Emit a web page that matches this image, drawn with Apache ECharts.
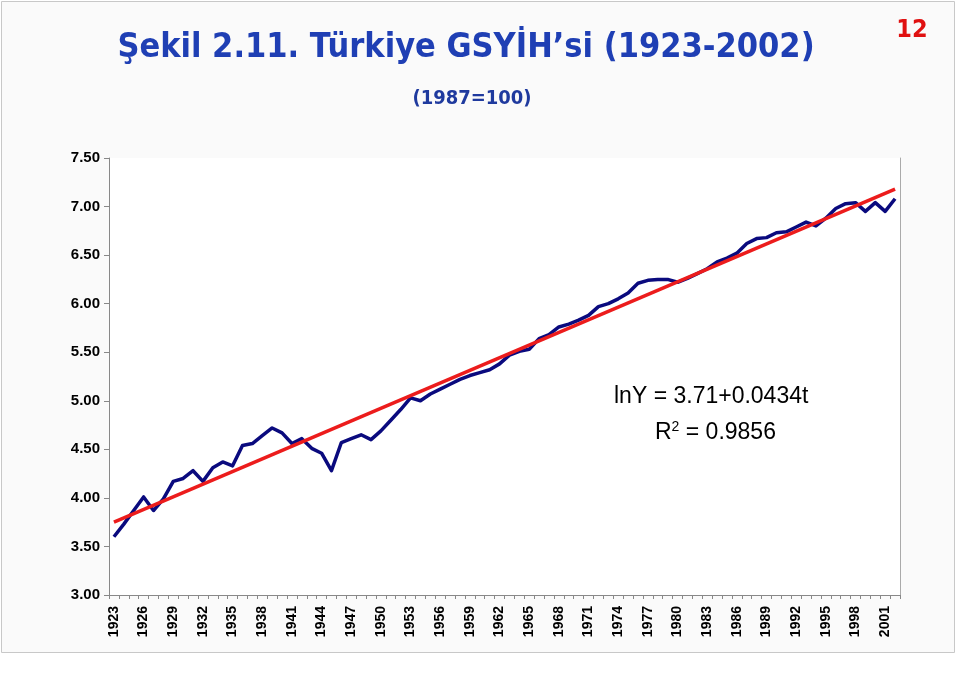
<!DOCTYPE html>
<html>
<head>
<meta charset="utf-8">
<script src="https://cdn.jsdelivr.net/npm/echarts@6/dist/echarts.min.js"></script>
<style>
html,body{margin:0;padding:0;background:#ffffff;}
#c{width:959px;height:678px;}
</style>
</head>
<body>
<div id="c"></div>
<script>
const years = [];
for (let y = 1923; y <= 2002; y++) years.push(String(y));

const gdpLog = [
 3.60,3.73,3.87,4.01,3.87,3.99,4.17,4.20,4.28,4.17,
 4.31,4.37,4.33,4.54,4.56,4.64,4.72,4.67,4.56,4.61,
 4.51,4.46,4.28,4.57,4.61,4.65,4.60,4.69,4.80,4.91,
 5.03,5.00,5.07,5.12,5.17,5.22,5.26,5.29,5.32,5.38,
 5.47,5.51,5.53,5.64,5.68,5.76,5.79,5.83,5.88,5.97,
 6.00,6.05,6.11,6.21,6.24,6.25,6.25,6.22,6.26,6.31,
 6.36,6.43,6.47,6.52,6.62,6.67,6.68,6.73,6.74,6.79,
 6.84,6.80,6.88,6.98,7.03,7.04,6.95,7.04,6.95,7.08
];

const trendYears = ['1923', '2002'];
const trendValues = [3.75, 7.18];

const yTicks = { min: 3, max: 7.5, interval: 0.5 };

const chart = echarts.init(document.getElementById('c'), null, {renderer: 'canvas'});
chart.setOption({
  animation: false,
  backgroundColor: '#ffffff',
  graphic: [
    { type: 'rect', z: -10, shape: {x: 1.5, y: 1.5, width: 953, height: 651},
      style: {fill: '#fafafa', stroke: '#c8c8c8', lineWidth: 1} },
    { type: 'text', x: 466, y: 31, z: 10,
      style: { text: 'Şekil 2.11. Türkiye GSYİH\u2019si (1923-2002)', textAlign: 'center',
        font: 'bold 34px "DejaVu Sans Condensed", "DejaVu Sans", sans-serif',
        fill: '#1f3fb4', shadowColor: 'rgba(0,0,0,0.35)', shadowBlur: 2, shadowOffsetX: 1.5, shadowOffsetY: 1.5 } },
    { type: 'text', x: 472, y: 89, z: 10,
      style: { text: '(1987=100)', textAlign: 'center', font: 'bold 20px "DejaVu Sans Condensed", "DejaVu Sans", sans-serif',
        fill: '#1f3a9e' } },
    { type: 'text', x: 912, y: 18, z: 10,
      style: { text: '12', textAlign: 'center', font: 'bold 25px "DejaVu Sans Condensed", "DejaVu Sans", sans-serif', fill: '#e01010' } },
    { type: 'text', x: 614, y: 385, z: 10,
      style: { text: 'lnY = 3.71+0.0434t', font: '23px "Liberation Sans", Arial, sans-serif', fill: '#000' } },
    { type: 'text', x: 655, y: 420, z: 10,
      style: { rich: { a: {font: '23px "Liberation Sans", Arial, sans-serif', fill: '#000'},
                       s: {font: '14px "Liberation Sans", Arial, sans-serif', fill: '#000', verticalAlign: 'top', padding:[0,0,12,0]} },
               text: '{a|R}{s|2}{a| = 0.9856}' } }
  ],
  grid: { left: 109, right: 59, top: 158, bottom: 83, show: true, backgroundColor: '#ffffff', borderWidth: 0 },
  xAxis: {
    type: 'category', data: years, boundaryGap: true,
    axisLine: { show: true, lineStyle: { color: '#888', width: 1 } },
    axisTick: { show: true, interval: 0, length: 4, lineStyle: { color: '#888' } },
    axisLabel: { interval: 2, rotate: 90, color: '#000', fontWeight: 'bold',
      fontFamily: '"Liberation Sans", Arial, sans-serif', fontSize: 14, margin: 11 },
    splitLine: { show: false }
  },
  yAxis: [{
    type: 'value', min: yTicks.min, max: yTicks.max, interval: yTicks.interval,
    axisLine: { show: true, lineStyle: { color: '#888', width: 1 } },
    axisTick: { show: true, length: 5, lineStyle: { color: '#888' } },
    axisLabel: { color: '#000', fontWeight: 'bold', fontFamily: '"Liberation Sans", Arial, sans-serif',
      fontSize: 15, margin: 9, formatter: v => v.toFixed(2) },
    splitLine: { show: false }
  }, {
    type: 'value', position: 'right', min: yTicks.min, max: yTicks.max, interval: yTicks.interval,
    axisLine: { show: true, lineStyle: { color: '#aaa', width: 1 } },
    axisTick: { show: false }, axisLabel: { show: false }, splitLine: { show: false }
  }],
  series: [
    { type: 'line', data: gdpLog, symbol: 'none', smooth: false, z: 2,
      lineStyle: { color: '#0a0a7e', width: 3.5, join: 'round' } },
    { type: 'line', data: trendYears.map((y, i) => [y, trendValues[i]]), symbol: 'none', z: 3,
      lineStyle: { color: '#ec1c1c', width: 3.5 } }
  ]
});
</script>
</body>
</html>
